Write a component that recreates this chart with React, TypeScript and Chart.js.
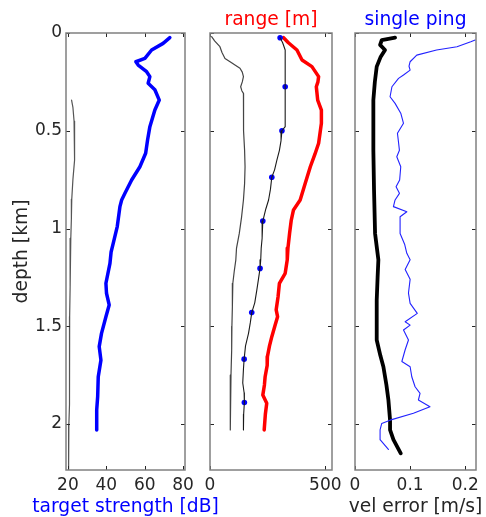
import React, { useEffect, useRef } from "react";
import { Chart, registerables } from "chart.js";

Chart.register(...registerables);

// ---------- axis ticks ----------
const depthMax = 2.235;
const depthTicks = [0, 0.5, 1, 1.5, 2];
const depthTickLabels = ["0", "0.5", "1", "1.5", "2"];

const tsTicks = [20, 40, 60, 80];
const tsTickLabels = ["20", "40", "60", "80"];
const tsMin = 19;
const tsMax = 81;

const rangeTicks = [0, 500];
const rangeTickLabels = ["0", "500"];
const rangeMin = 0;
const rangeMax = 529;

const velTicks = [0, 0.1, 0.2];
const velTickLabels = ["0", "0.1", "0.2"];
const velMin = 0;
const velMax = 0.2195;

// ---------- panel 1: target strength ----------
const tsDepth = [0.024, 0.053, 0.087, 0.13, 0.147, 0.164, 0.198, 0.223, 0.257, 0.29, 0.343, 0.394, 0.479, 0.547, 0.615, 0.684, 0.752, 0.82, 0.854, 0.888, 0.99, 1.076, 1.12, 1.178, 1.28, 1.331, 1.391, 1.451, 1.536, 1.604, 1.673, 1.758, 1.86, 1.928, 2.03];
const tsValue = [73.1, 69.6, 63.6, 60.1, 55.4, 56.6, 61, 62.7, 61.8, 65.3, 67.6, 65.3, 62.7, 61.5, 60.5, 57.5, 53.2, 49.7, 48, 47.1, 45.7, 43.6, 42.5, 41.9, 39.8, 40.1, 41.5, 39.8, 37.5, 36.3, 37.2, 35.8, 35.5, 35, 35];

const tsNoiseDepth = [0.343, 0.38, 0.45, 0.5, 0.58, 0.65, 0.75, 0.85, 0.95, 1.05, 1.15, 1.3, 1.45, 1.5, 1.6, 1.75, 1.9, 2.0, 2.1, 2.235];
const tsNoiseValue = [21.9, 22.6, 23.2, 23.6, 23.6, 23.2, 22.6, 22.0, 21.8, 21.5, 21.2, 21.1, 20.9, 21.0, 20.9, 20.8, 20.6, 20.5, 20.4, 20.3];

// ---------- panel 2: range ----------
const rangeNearDepth = [0.019, 0.04, 0.07, 0.1, 0.13, 0.147, 0.165, 0.18, 0.2, 0.223, 0.25, 0.275, 0.295, 0.309, 0.4, 0.5, 0.6, 0.684, 0.77, 0.854, 0.94, 1.025, 1.1, 1.16, 1.22, 1.28, 1.4, 1.5, 1.62, 1.75, 1.9, 2.03];
const rangeNearValue = [7, 20, 43, 52, 65, 87, 110, 130, 140, 145, 140, 133, 138, 145, 145, 146, 150, 152, 150, 145, 137, 127, 115, 112, 105, 99, 97, 95, 94, 91, 89, 87];

const rangeMidDepth = [0.024, 0.05, 0.087, 0.2, 0.275, 0.4, 0.479, 0.5, 0.55, 0.6, 0.65, 0.7, 0.738, 0.8, 0.854, 0.9, 0.962, 1.05, 1.1, 1.16, 1.204, 1.26, 1.315, 1.38, 1.43, 1.48, 1.536, 1.6, 1.668, 1.72, 1.79, 1.84, 1.89, 1.95, 2.03];
const rangeMidValue = [304, 315, 326, 326, 326, 326, 326, 312, 308, 301, 290, 280, 268, 262, 254, 242, 229, 226, 222, 220, 217, 210, 203, 194, 181, 175, 167, 154, 148, 145, 142, 148, 149, 146, 145];

const rangeDotDepth = [0.024, 0.275, 0.5, 0.738, 0.962, 1.204, 1.43, 1.668, 1.89];
const rangeDotValue = [304, 326, 312, 268, 229, 217, 181, 148, 149];

const rangeFarDepth = [0.024, 0.05, 0.087, 0.138, 0.172, 0.223, 0.25, 0.275, 0.343, 0.394, 0.462, 0.564, 0.62, 0.684, 0.769, 0.854, 0.905, 0.96, 1.025, 1.1, 1.16, 1.229, 1.28, 1.35, 1.416, 1.451, 1.5, 1.553, 1.6, 1.655, 1.7, 1.758, 1.8, 1.852, 1.894, 1.95, 2.03];
const rangeFarValue = [319, 340, 377, 399, 442, 471, 468, 461, 467, 483, 483, 471, 455, 435, 413, 391, 362, 352, 345, 338, 335, 326, 301, 295, 287, 293, 281, 268, 258, 249, 248, 239, 236, 229, 246, 240, 235];

// ---------- panel 3: velocity error ----------
const velMeanDepth = [0.024, 0.036, 0.061, 0.087, 0.121, 0.172, 0.25, 0.343, 0.6, 0.8, 1.025, 1.16, 1.25, 1.366, 1.57, 1.65, 1.707, 1.8, 1.877, 1.98, 2.03, 2.08, 2.15];
const velMeanValue = [0.0727, 0.0485, 0.0455, 0.0545, 0.0467, 0.0394, 0.036, 0.0333, 0.0333, 0.0345, 0.0364, 0.0424, 0.041, 0.0394, 0.0394, 0.046, 0.0515, 0.057, 0.0606, 0.0636, 0.0636, 0.0697, 0.083];

const velPingDepth = [0.036, 0.045, 0.07, 0.087, 0.113, 0.147, 0.17, 0.19, 0.215, 0.232, 0.275, 0.326, 0.36, 0.41, 0.462, 0.513, 0.56, 0.6, 0.633, 0.684, 0.752, 0.786, 0.82, 0.854, 0.888, 0.914, 0.94, 1.025, 1.08, 1.127, 1.16, 1.21, 1.26, 1.33, 1.383, 1.434, 1.477, 1.494, 1.519, 1.57, 1.62, 1.68, 1.707, 1.758, 1.809, 1.843, 1.877, 1.911, 1.945, 1.98, 1.997, 2.03, 2.08, 2.13];
const velPingValue = [0.218, 0.21, 0.185, 0.148, 0.112, 0.1, 0.098, 0.1, 0.088, 0.079, 0.067, 0.0636, 0.0727, 0.083, 0.088, 0.077, 0.079, 0.0806, 0.0758, 0.083, 0.081, 0.0745, 0.0806, 0.0727, 0.0697, 0.094, 0.0818, 0.0818, 0.09, 0.094, 0.1, 0.091, 0.1, 0.097, 0.1, 0.113, 0.091, 0.1, 0.088, 0.097, 0.091, 0.085, 0.1, 0.103, 0.109, 0.118, 0.115, 0.136, 0.106, 0.0636, 0.0485, 0.0455, 0.0455, 0.0606];

// ---------- styling ----------
const FONT = "'DejaVu Sans', sans-serif";
const TEXT = "#262626";
const TICK_SIZE = 17;
const TITLE_SIZE = 18.7;
const W = 486;
const H = 517;

const pts = (depth: number[], values: number[]) => depth.map((d, i) => ({ x: values[i], y: d }));

const line = (depth: number[], values: number[], color: string, width: number) => ({
  data: pts(depth, values),
  showLine: true,
  borderColor: color,
  backgroundColor: color,
  borderWidth: width,
  pointRadius: 0,
  tension: 0,
  borderJoinStyle: "round",
  borderCapStyle: "round",
});

const framePlugin = {
  id: "frame",
  afterDraw(chart: any, _args: any, opts: any) {
    const { ctx, chartArea: a, scales } = chart;
    const xs = scales.x;
    const ys = scales.y;
    ctx.save();
    ctx.strokeStyle = TEXT;
    ctx.lineWidth = 1;
    const L = 4;
    ctx.beginPath();
    for (const v of opts.xTicks) {
      const px = Math.round(xs.getPixelForValue(v)) + 0.5;
      ctx.moveTo(px, a.bottom);
      ctx.lineTo(px, a.bottom - L);
      ctx.moveTo(px, a.top);
      ctx.lineTo(px, a.top + L);
    }
    for (const v of depthTicks) {
      const py = Math.round(ys.getPixelForValue(v)) + 0.5;
      ctx.moveTo(a.left, py);
      ctx.lineTo(a.left + L, py);
      ctx.moveTo(a.right, py);
      ctx.lineTo(a.right - L, py);
    }
    ctx.stroke();
    ctx.strokeStyle = "#808080";
    ctx.lineWidth = 1.5;
    ctx.strokeRect(a.left, a.top, a.right - a.left, a.bottom - a.top);
    if (opts.bottomTitle) {
      ctx.font = `${TITLE_SIZE}px ${FONT}`;
      ctx.fillStyle = opts.bottomColor;
      ctx.textAlign = "center";
      ctx.textBaseline = "middle";
      ctx.fillText(opts.bottomTitle, (a.left + a.right) / 2, 507.5);
    }
    ctx.restore();
  },
};

type Panel = {
  datasets: any[];
  xMin: number;
  xMax: number;
  xTicks: number[];
  xTickLabels: string[];
  showY: boolean;
  padLeft: number;
  padRight: number;
  topTitle?: string;
  topColor?: string;
  bottomTitle?: string;
  bottomColor?: string;
};

function makeConfig(p: Panel): any {
  return {
    type: "scatter",
    data: { datasets: p.datasets },
    options: {
      responsive: false,
      animation: false,
      events: [],
      layout: { padding: { left: p.padLeft, right: p.padRight, top: p.topTitle ? 0 : 33, bottom: 0 } },
      scales: {
        x: {
          type: "linear",
          position: "bottom",
          min: p.xMin,
          max: p.xMax,
          grid: { display: false, drawTicks: false },
          border: { display: false },
          ticks: {
            font: { family: FONT, size: TICK_SIZE },
            color: TEXT,
            padding: 5,
            maxRotation: 0,
            autoSkip: false,
            callback: (v: number) => {
              const i = p.xTicks.indexOf(v);
              return i >= 0 ? p.xTickLabels[i] : "";
            },
          },
          afterBuildTicks: (s: any) => {
            s.ticks = p.xTicks.map((v) => ({ value: v }));
          },
          afterFit: (s: any) => {
            s.height = 47;
          },
        },
        y: {
          type: "linear",
          position: "left",
          min: 0,
          max: depthMax,
          reverse: true,
          display: p.showY,
          grid: { display: false, drawTicks: false },
          border: { display: false },
          ticks: {
            font: { family: FONT, size: TICK_SIZE },
            color: TEXT,
            padding: 4,
            autoSkip: false,
            callback: (v: number) => {
              const i = depthTicks.indexOf(v);
              return i >= 0 ? depthTickLabels[i] : "";
            },
          },
          title: {
            display: p.showY,
            text: "depth [km]",
            color: TEXT,
            font: { family: FONT, size: TITLE_SIZE },
            padding: { top: 10.8, bottom: 0 },
          },
          afterBuildTicks: (s: any) => {
            s.ticks = depthTicks.map((v) => ({ value: v }));
          },
          afterFit: (s: any) => {
            if (p.showY) s.width = 66;
          },
        },
      },
      plugins: {
        legend: { display: false },
        tooltip: { enabled: false },
        title: {
          display: !!p.topTitle,
          text: p.topTitle || "",
          color: p.topColor,
          font: { family: FONT, size: TITLE_SIZE, weight: "normal" },
          padding: { top: 8.8, bottom: 1.76 },
        },
        frame: {
          xTicks: p.xTicks,
          bottomTitle: p.bottomTitle,
          bottomColor: p.bottomColor,
        },
      },
    },
    plugins: [framePlugin],
  };
}

const panels: Panel[] = [
  {
    datasets: [
      line(tsNoiseDepth, tsNoiseValue, "#555555", 1.2),
      line(tsDepth, tsValue, "#0000ff", 3.5),
    ],
    xMin: tsMin,
    xMax: tsMax,
    xTicks: tsTicks,
    xTickLabels: tsTickLabels,
    showY: true,
    padLeft: 0,
    padRight: W - 185,
    bottomTitle: "target strength [dB]",
    bottomColor: "#0000ff",
  },
  {
    datasets: [
      line(rangeNearDepth, rangeNearValue, "#444444", 1.2),
      line(rangeMidDepth, rangeMidValue, "#1a1a1a", 1.1),
      {
        data: pts(rangeDotDepth, rangeDotValue),
        showLine: false,
        pointRadius: 2.8,
        pointBackgroundColor: "#0000ff",
        pointBorderWidth: 0,
      },
      line(rangeFarDepth, rangeFarValue, "#ff0000", 3.5),
    ],
    xMin: rangeMin,
    xMax: rangeMax,
    xTicks: rangeTicks,
    xTickLabels: rangeTickLabels,
    showY: false,
    padLeft: 210,
    padRight: W - 332,
    topTitle: "range [m]",
    topColor: "#ff0000",
  },
  {
    datasets: [
      line(velPingDepth, velPingValue, "#2222ff", 1.1),
      line(velMeanDepth, velMeanValue, "#000000", 3.8),
    ],
    xMin: velMin,
    xMax: velMax,
    xTicks: velTicks,
    xTickLabels: velTickLabels,
    showY: false,
    padLeft: 355,
    padRight: W - 476,
    topTitle: "single ping",
    topColor: "#0000ff",
    bottomTitle: "vel error [m/s]",
    bottomColor: TEXT,
  },
];

function PanelCanvas({ panel }: { panel: Panel }) {
  const ref = useRef<HTMLCanvasElement | null>(null);
  useEffect(() => {
    if (!ref.current) return;
    const chart = new Chart(ref.current, makeConfig(panel));
    return () => chart.destroy();
  }, [panel]);
  return (
    <canvas
      ref={ref}
      width={W}
      height={H}
      style={{ position: "absolute", left: 0, top: 0, width: W, height: H }}
    />
  );
}

export default function App() {
  return (
    <div style={{ position: "fixed", left: 0, top: 0, width: W, height: H, background: "#ffffff" }}>
      {panels.map((p, i) => (
        <PanelCanvas key={i} panel={p} />
      ))}
    </div>
  );
}
